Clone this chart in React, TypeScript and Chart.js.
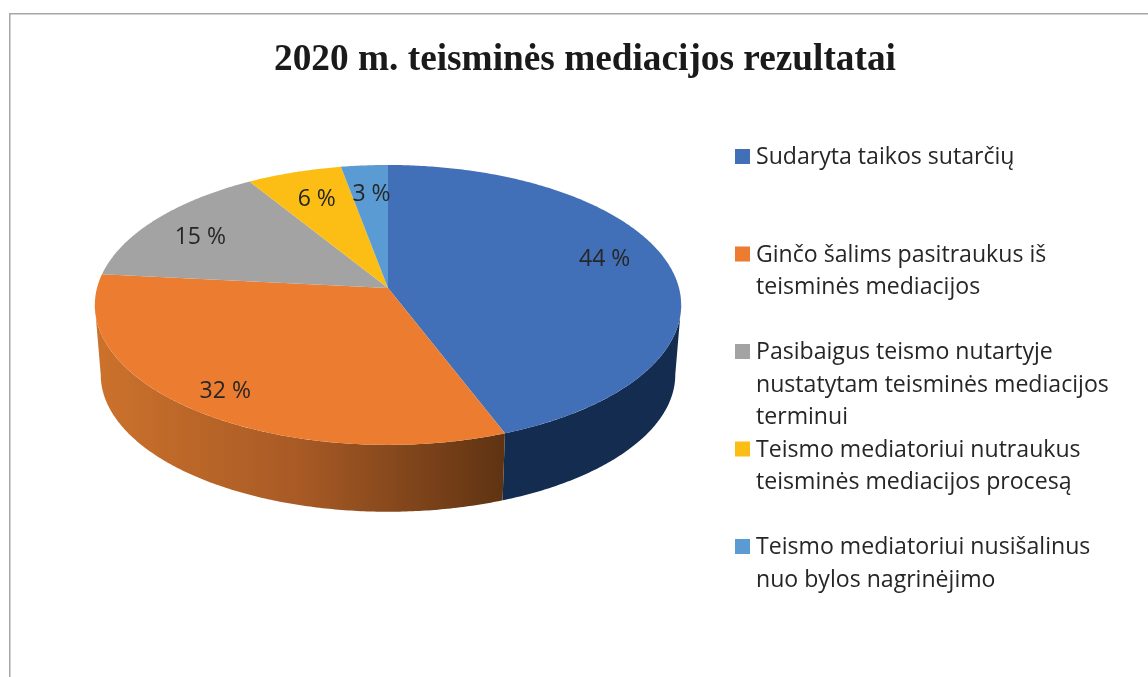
import React, { useEffect, useRef } from "react";
import { Chart, registerables } from "chart.js";

Chart.register(...registerables);

const titleText = "2020 m. teisminės mediacijos rezultatai";
const categories = [
  ["Sudaryta taikos sutarčių"],
  ["Ginčo šalims pasitraukus iš", "teisminės mediacijos"],
  ["Pasibaigus teismo nutartyje", "nustatytam teisminės mediacijos", "terminui"],
  ["Teismo mediatoriui nutraukus", "teisminės mediacijos procesą"],
  ["Teismo mediatoriui nusišalinus", "nuo bylos nagrinėjimo"],
];
const values = [44.2, 32.4, 14.6, 5.9, 2.9];
const colors = ["#4270b8", "#ec7c30", "#a3a3a3", "#fcbe14", "#5a9bd4"];
const labelRadius = [0.77, 0.85, 0.8, 0.76, 0.76];
const labelNudgeX = [0, 1, 0, 2, 2];
const labelNudgeY = [-10, 2, 5, 2, 2];
const wallBlue = "#132c50";

// perspective of the disc
const CX = 388, CY = 288, A = 291, B = 137.9, K = 0.121;
const DEPTH = 70, BOTTOM_SCALE = 0.98;
const FONT = '"Open Sans", sans-serif';
// rim angles where the disc's silhouette turns: only the rim between them shows a wall
const WALL_FROM = Math.acos(-K);
const WALL_TO = 2 * Math.PI - WALL_FROM;

function project(theta: number, r: number, bottom: boolean) {
  const u = Math.sin(theta) * r;
  const v = -Math.cos(theta) * r;
  const w = 1 - K * v;
  const s = bottom ? BOTTOM_SCALE : 1;
  return { x: CX + (s * A * u) / w, y: CY + (bottom ? DEPTH : 0) + (s * B * v) / w };
}

function rimPath(ctx: CanvasRenderingContext2D, a0: number, a1: number, bottom = false) {
  const steps = Math.max(2, Math.ceil(Math.abs(a1 - a0) / 0.01));
  for (let i = 0; i <= steps; i++) {
    const p = project(a0 + ((a1 - a0) * i) / steps, 1, bottom);
    ctx.lineTo(p.x, p.y);
  }
}

const piePerspective = {
  id: "piePerspective",
  beforeDatasetsDraw(chart: any) {
    const ctx: CanvasRenderingContext2D = chart.ctx;
    const arcs = chart.getDatasetMeta(0).data;
    const angles = arcs.map((arc: any) => [arc.startAngle + Math.PI / 2, arc.endAngle + Math.PI / 2]);
    ctx.save();
    // side walls of the slices that reach the front of the disc
    angles.forEach(([a0, a1]: number[], i: number) => {
      const from = Math.max(a0, WALL_FROM);
      const to = Math.min(a1, WALL_TO);
      if (to <= from) return;
      if (i === 1) {
        const g = ctx.createLinearGradient(94, 0, 506, 0);
        g.addColorStop(0, "#cc722c");
        g.addColorStop(0.5, "#a85a25");
        g.addColorStop(1, "#5e3312");
        ctx.fillStyle = g;
      } else {
        ctx.fillStyle = i === 0 ? wallBlue : colors[i];
      }
      ctx.beginPath();
      rimPath(ctx, from, to);
      rimPath(ctx, to, from, true);
      ctx.closePath();
      ctx.fill();
    });
    // top faces
    angles.forEach(([a0, a1]: number[], i: number) => {
      ctx.beginPath();
      ctx.moveTo(CX, CY);
      rimPath(ctx, a0, a1);
      ctx.closePath();
      ctx.fillStyle = colors[i];
      ctx.fill();
    });
    // value labels
    ctx.font = `23px ${FONT}`;
    ctx.fillStyle = "#262626";
    ctx.textAlign = "center";
    ctx.textBaseline = "middle";
    angles.forEach(([a0, a1]: number[], i: number) => {
      const p = project((a0 + a1) / 2, labelRadius[i], false);
      ctx.fillText(`${Math.round(values[i])} %`, p.x + labelNudgeX[i], p.y + labelNudgeY[i]);
    });
    ctx.restore();
    return false;
  },
};

const legendAndFrame = {
  id: "legendAndFrame",
  afterDraw(chart: any) {
    const ctx: CanvasRenderingContext2D = chart.ctx;
    ctx.save();
    ctx.strokeStyle = "#a6a6a6";
    ctx.lineWidth = 1.5;
    ctx.beginPath();
    ctx.moveTo(9.75, 677);
    ctx.lineTo(9.75, 13.75);
    ctx.lineTo(1148, 13.75);
    ctx.stroke();

    ctx.font = `23.1px ${FONT}`;
    ctx.textAlign = "left";
    ctx.textBaseline = "alphabetic";
    categories.forEach((lines, i) => {
      const y0 = 164 + 97.5 * i;
      ctx.fillStyle = colors[i];
      ctx.fillRect(735, y0 - 15, 15, 15);
      ctx.fillStyle = "#262626";
      lines.forEach((line, j) => ctx.fillText(line, 756, y0 + 32.5 * j));
    });
    ctx.restore();
  },
};

export default function App() {
  const ref = useRef<HTMLCanvasElement>(null);
  useEffect(() => {
    const chart = new Chart(ref.current!, {
      type: "pie",
      data: {
        labels: categories.map((c) => c.join(" ")),
        datasets: [{ data: values, backgroundColor: colors, borderWidth: 0 }],
      },
      options: {
        responsive: false,
        animation: false,
        layout: { padding: { left: 22 } },
        plugins: {
          legend: { display: false },
          tooltip: { enabled: false },
          title: {
            display: true,
            text: titleText,
            color: "#1a1a1a",
            font: { family: '"Liberation Serif", serif', size: 37.3, weight: "bold" },
            padding: { top: 38, bottom: 10 },
          },
        },
      },
      plugins: [piePerspective, legendAndFrame],
    } as any);
    return () => chart.destroy();
  }, []);
  return (
    <canvas
      ref={ref}
      width={1148}
      height={677}
      style={{ position: "fixed", left: 0, top: 0, width: 1148, height: 677, display: "block", background: "#fff" }}
    />
  );
}
